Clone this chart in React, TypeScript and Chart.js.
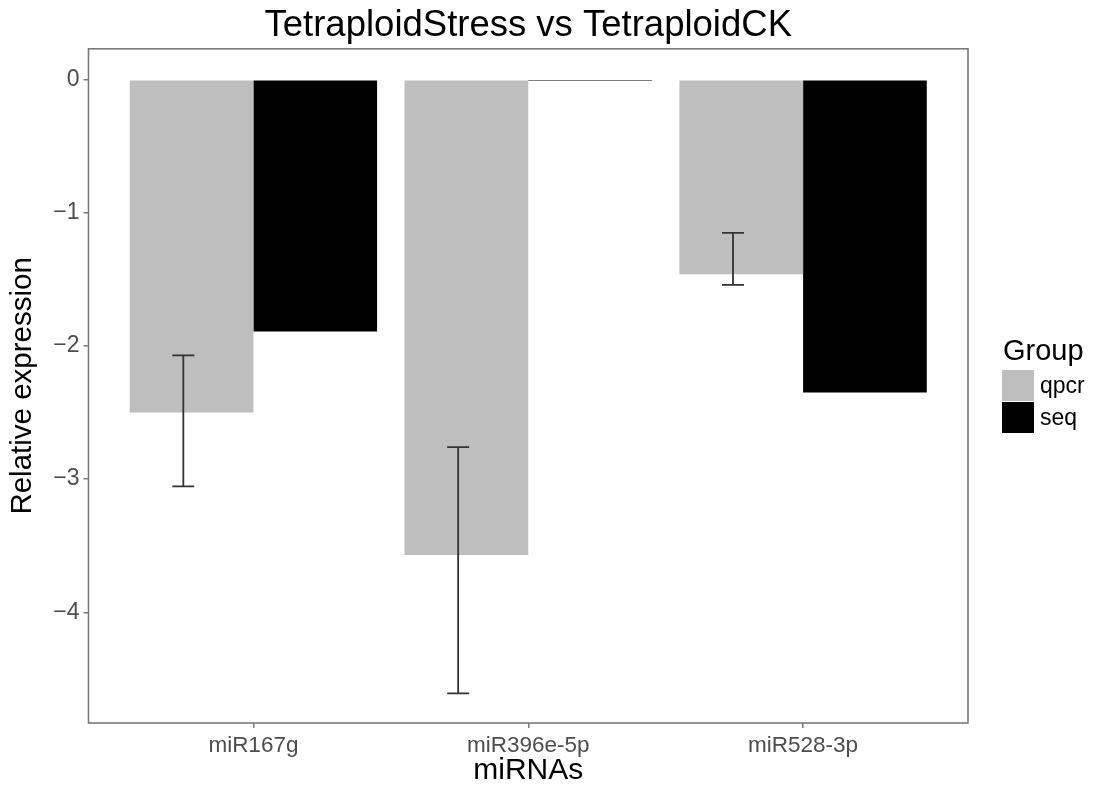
import React, { useEffect, useRef } from "react";
import { Chart, registerables } from "chart.js";

Chart.register(...registerables);

// miRNAs on the x axis, two measurement groups per miRNA
const categories = ["miR167g", "miR396e-5p", "miR528-3p"];
const groups = ["qpcr", "seq"];
const qpcrValues = [-2.5, -3.57, -1.46];
const seqValues = [-1.89, -0.008, -2.35];
// qPCR error-bar limits
const qpcrUpper = [-2.07, -2.76, -1.15];
const qpcrLower = [-3.055, -4.61, -1.54];
const yTicks = [0, -1, -2, -3, -4];
const groupColors = ["#bebebe", "#000000"];

const FONT = '"Liberation Sans", Arial, Helvetica, sans-serif';
const TICK_COLOR = "#4d4d4d";
const FRAME_COLOR = "#7a7a7a";

// vertical error bars on the qpcr series, in x/y data units
const errorBarPlugin = {
  id: "errorBars",
  afterDatasetsDraw(chart: any, _args: any, opts: any) {
    const { ctx } = chart;
    const x = chart.scales.x;
    const y = chart.scales.y;
    ctx.save();
    ctx.strokeStyle = opts.color;
    ctx.lineWidth = opts.width;
    categories.forEach((_, i) => {
      const pos = i + 1 + opts.dodge;
      const cx = x.getPixelForValue(pos);
      const half = x.getPixelForValue(pos + opts.capHalf) - cx;
      const yTop = y.getPixelForValue(qpcrUpper[i]);
      const yBot = y.getPixelForValue(qpcrLower[i]);
      ctx.beginPath();
      ctx.moveTo(cx, yTop);
      ctx.lineTo(cx, yBot);
      ctx.moveTo(cx - half, yTop);
      ctx.lineTo(cx + half, yTop);
      ctx.moveTo(cx - half, yBot);
      ctx.lineTo(cx + half, yBot);
      ctx.stroke();
    });
    ctx.restore();
  },
};

// full box around the plotting panel
const panelFramePlugin = {
  id: "panelFrame",
  afterDraw(chart: any, _args: any, opts: any) {
    const { ctx, chartArea: a } = chart;
    ctx.save();
    ctx.strokeStyle = opts.color;
    ctx.lineWidth = opts.width;
    ctx.strokeRect(a.left, a.top, a.right - a.left, a.bottom - a.top);
    ctx.restore();
  },
};

// "Group" legend to the right of the panel
const groupLegendPlugin = {
  id: "groupLegend",
  afterDraw(chart: any, _args: any, opts: any) {
    const { ctx, chartArea: a } = chart;
    const left = a.right + opts.gap;
    ctx.save();
    ctx.fillStyle = "#000";
    ctx.textAlign = "left";
    ctx.textBaseline = "middle";
    ctx.font = `${opts.titleSize}px ${FONT}`;
    ctx.fillText(opts.title, left + 1, opts.titleY);
    ctx.font = `${opts.labelSize}px ${FONT}`;
    chart.data.datasets.forEach((ds: any, i: number) => {
      const top = opts.keysTop + i * (opts.keyH + opts.keyGap);
      ctx.fillStyle = ds.backgroundColor;
      ctx.fillRect(left, top, opts.keyW, opts.keyH);
      ctx.fillStyle = "#000";
      ctx.fillText(ds.label, left + opts.keyW + 6, top + opts.keyH / 2 + 1);
    });
    ctx.restore();
  },
};

export default function App() {
  const canvasRef = useRef<HTMLCanvasElement | null>(null);

  useEffect(() => {
    if (!canvasRef.current) return;
    Chart.defaults.font.family = FONT;

    const chart = new Chart(canvasRef.current, {
      type: "bar",
      data: {
        datasets: [
          {
            label: groups[0],
            data: categories.map((_, i) => ({ x: i + 1, y: qpcrValues[i] })),
            backgroundColor: groupColors[0],
            borderWidth: 0,
            categoryPercentage: 0.9,
            barPercentage: 1,
          },
          {
            label: groups[1],
            data: categories.map((_, i) => ({ x: i + 1, y: seqValues[i] })),
            backgroundColor: groupColors[1],
            borderWidth: 0,
            categoryPercentage: 0.9,
            barPercentage: 1,
          },
        ],
      },
      options: {
        animation: false,
        responsive: false,
        events: [],
        layout: { padding: { left: 0, right: 129, top: 0, bottom: 0 } },
        scales: {
          x: {
            type: "linear",
            min: 0.4,
            max: 3.6,
            offset: false,
            afterBuildTicks: (scale: any) => {
              scale.ticks = categories.map((_, i) => ({ value: i + 1 }));
            },
            afterFit: (scale: any) => {
              scale.height = 63;
            },
            ticks: {
              color: TICK_COLOR,
              font: { size: 22.5 },
              padding: 4,
              maxRotation: 0,
              autoSkip: false,
              callback: (v: any) => categories[Number(v) - 1] ?? "",
            },
            grid: {
              offset: false,
              drawOnChartArea: false,
              drawTicks: true,
              tickLength: 5,
              color: FRAME_COLOR,
              lineWidth: 1.5,
            },
            border: { display: false },
            title: {
              display: true,
              text: "miRNAs",
              color: "#000",
              font: { size: 30 },
              padding: { top: 0, bottom: -3 },
            },
          },
          y: {
            type: "linear",
            min: -4.832,
            max: 0.233,
            afterBuildTicks: (scale: any) => {
              scale.ticks = yTicks.map((v) => ({ value: v }));
            },
            afterFit: (scale: any) => {
              scale.width = 88.5;
            },
            ticks: {
              color: TICK_COLOR,
              font: { size: 23 },
              padding: 4,
              callback: (v: any) => {
                const n = Number(v);
                return n < 0 ? `\u2212${Math.abs(n)}` : `${n}`;
              },
            },
            grid: {
              drawOnChartArea: false,
              drawTicks: true,
              tickLength: 5,
              color: FRAME_COLOR,
              lineWidth: 1.5,
            },
            border: { display: false },
            title: {
              display: true,
              text: "Relative expression",
              color: "#000",
              font: { size: 29.5 },
              padding: { top: 5, bottom: 0 },
            },
          },
        },
        plugins: {
          legend: { display: false },
          tooltip: { enabled: false },
          title: {
            display: true,
            fullSize: false,
            text: "TetraploidStress vs TetraploidCK",
            color: "#000",
            font: { size: 36.5, weight: "normal" },
            padding: { top: 4, bottom: 1 },
          },
          errorBars: { color: "#333333", width: 1.8, dodge: -0.255, capHalf: 0.04 },
          panelFrame: { color: FRAME_COLOR, width: 1.6 },
          groupLegend: {
            title: "Group",
            titleSize: 29,
            labelSize: 23,
            gap: 34,
            titleY: 352,
            keysTop: 370,
            keyW: 32,
            keyH: 31,
            keyGap: 1,
          },
        } as any,
      },
      plugins: [errorBarPlugin, panelFramePlugin, groupLegendPlugin],
    } as any);

    return () => chart.destroy();
  }, []);

  return (
    <div style={{ position: "absolute", left: 0, top: 0, width: 1097, height: 786, background: "#fff" }}>
      <canvas ref={canvasRef} width={1097} height={786} />
    </div>
  );
}
